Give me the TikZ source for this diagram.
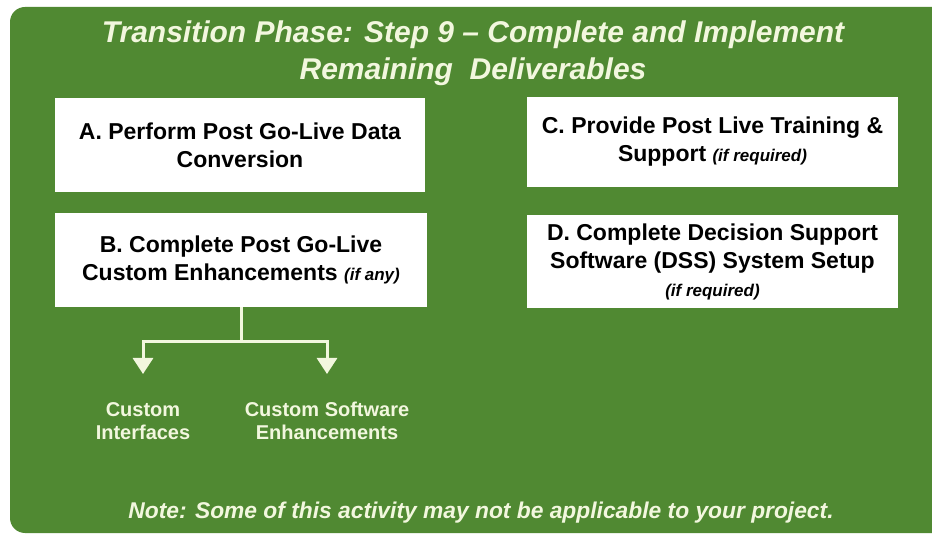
\documentclass[tikz,border=0pt]{standalone}
\usepackage{fontspec}
\setmainfont{Liberation Sans}
\usetikzlibrary{arrows.meta}
\definecolor{panel}{RGB}{80,137,50}
\definecolor{cream}{RGB}{242,247,222}
\tikzset{wedge/.tip={Triangle[width=20pt,length=16pt]}}

\begin{document}
\begin{tikzpicture}[x=1pt,y=-1pt,
  task/.style={fill=white, inner sep=0pt, align=center,
    font=\fontsize{23}{28}\selectfont\bfseries},
  sublabel/.style={text=cream, align=center,
    font=\fontsize{20}{23}\selectfont\bfseries},
  conn/.style={draw=cream, line width=3pt}]
  % page and green panel
  \fill[white] (0,0) rectangle (932,537);
  \useasboundingbox (0,0) rectangle (932,537);
  \fill[panel, rounded corners=15pt] (10,7) rectangle (950,533);

  % heading (anchored on the baseline of its second line)
  \node[text=cream, align=center, anchor=base,
    font=\fontsize{30}{37}\selectfont\bfseries\itshape] (title) at (473,80)
    {Transition Phase: Step 9 -- Complete and Implement\\Remaining\ \ Deliverables};

  % task boxes
  \node[task, minimum width=370pt, minimum height=94pt] (A) at (240,145)
    {A. Perform Post Go-Live Data\\Conversion};
  \node[task, minimum width=372pt, minimum height=94pt] (B) at (241,260)
    {B. Complete Post Go-Live\\Custom Enhancements {\fontsize{17}{28}\selectfont\itshape (if any)}};
  \node[task, minimum width=371pt, minimum height=90pt] (C) at (712.5,142)
    {C. Provide Post Live Training \&\\Support {\fontsize{17}{28}\selectfont\itshape (if required)}};
  \node[task, minimum width=371pt, minimum height=93pt] (D) at (712.5,261.5)
    {D. Complete Decision Support\\Software (DSS) System Setup\\{\fontsize{17}{27}\selectfont\itshape (if required)}};

  % branch below B
  \coordinate (junction) at (241,342);
  \coordinate (tipI) at (143,374);
  \coordinate (tipS) at (327,374);
  \node[sublabel] (ci) at (143,421) {Custom\\Interfaces};
  \node[sublabel] (cs) at (327,421) {Custom Software\\Enhancements};
  \draw[conn] (B.south) -- (junction);
  \draw[conn, wedge-wedge] (tipI) |- (junction) -| (tipS);

  % footnote
  \node[text=cream, anchor=base, font=\fontsize{22.8}{25}\selectfont\bfseries\itshape]
    (footnote) at (481,518)
    {Note: Some of this activity may not be applicable to your project.};
\end{tikzpicture}
\end{document}
